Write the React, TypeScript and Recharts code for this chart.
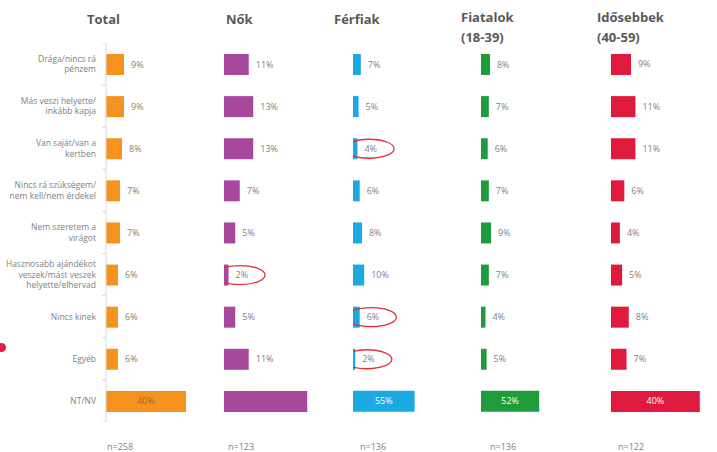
import React from "react";
import { BarChart, Bar, XAxis, YAxis, LabelList } from "recharts";

// category labels, "\n" marks the line breaks of the slide
const categories = [
  "Drága/nincs rá\npénzem",
  "Más veszi helyette/\ninkább kapja",
  "Van saját/van a\nkertben",
  "Nincs rá szükségem/\nnem kell/nem érdekel",
  "Nem szeretem a\nvirágot",
  "Hasznosabb ajándékot\nveszek/mást veszek\nhelyette/elhervad",
  "Nincs kinek",
  "Egyéb",
  "NT/NV",
];

const totalValues = [9, 9, 8, 7, 7, 6, 6, 6, 40];
const nokValues = [11, 13, 13, 7, 5, 2, 5, 11, 37];
const ferfiakValues = [7, 5, 4, 6, 8, 10, 6, 2, 55];
const fiatalokValues = [8, 7, 6, 7, 9, 7, 4, 5, 52];
const idosebbekValues = [9, 11, 11, 6, 4, 5, 8, 7, 40];

// rows circled in red on the slide
const nokCircled = [5];
const ferfiakCircled = [2, 6, 7];

const sampleSizes = ["n=258", "n=123", "n=136", "n=136", "n=122"];

const PLOT_TOP = 43;
const PLOT_H = 379;
const BAND = PLOT_H / categories.length;
const FONT = "'Open Sans', 'DejaVu Sans', sans-serif";
const GRAY = "#7f7f7f";

function CatTick(props: any) {
  const { x, y, payload, index } = props;
  const lines = String(payload.value).split("\n");
  const lh = 10.5;
  const start = -((lines.length - 1) * lh) / 2;
  const isLast = index === categories.length - 1;
  return (
    <g>
      <line x1={x + 6} x2={x + 10} y1={y - BAND / 2} y2={y - BAND / 2} stroke="#d9d9d9" />
      {isLast && <line x1={x + 6} x2={x + 10} y1={y + BAND / 2} y2={y + BAND / 2} stroke="#d9d9d9" />}
      <text x={x} y={y} textAnchor="end" fontSize={8.5} fill={GRAY} fontFamily={FONT}>
        {lines.map((l, i) => (
          <tspan key={i} x={x} dy={i === 0 ? start + 3 : lh}>
            {l}
          </tspan>
        ))}
      </text>
    </g>
  );
}

function makeLabel(circled: number[], showLast: boolean, lastColor: string) {
  return (props: any) => {
    const { x, y, width, height, value, index } = props;
    const cy = y + height / 2;
    const txt = `${value}%`;
    if (index === categories.length - 1) {
      if (!showLast) return null;
      return (
        <text x={x + width / 2} y={cy} dy={3} textAnchor="middle" fontSize={9} fill={lastColor} fontFamily={FONT}>
          {txt}
        </text>
      );
    }
    const tx = x + width + 7;
    const tw = txt.length * 5.6;
    return (
      <g>
        <text x={tx} y={cy} dy={3} fontSize={9} fill={GRAY} fontFamily={FONT}>
          {txt}
        </text>
        {circled.includes(index) && (
          <ellipse cx={tx + tw / 2 - 1} cy={cy} rx={25} ry={9.5} fill="none" stroke="#e0303a" strokeWidth={1.3} />
        )}
      </g>
    );
  };
}

interface PanelProps {
  values: number[];
  color: string;
  left: number;
  plotWidth: number;
  max: number;
  withAxis?: boolean;
  circled?: number[];
  showLast?: boolean;
  lastColor?: string;
  right?: number;
}

function Panel({ values, color, left, plotWidth, max, withAxis = false, circled = [], showLast = true, lastColor = "#ffffff", right = 40 }: PanelProps) {
  const data = categories.map((c, i) => ({ name: c, value: values[i] }));
  const axisW = withAxis ? left : 0;
  return (
    <div style={{ position: "absolute", left: withAxis ? 0 : left, top: PLOT_TOP }}>
      <BarChart
        layout="vertical"
        width={axisW + plotWidth + right}
        height={PLOT_H}
        data={data}
        margin={{ top: 0, right, bottom: 0, left: 0 }}
        barCategoryGap={0}
      >
        <XAxis type="number" domain={[0, max]} hide />
        <YAxis
          type="category"
          dataKey="name"
          hide={!withAxis}
          width={axisW}
          axisLine={{ stroke: "#d9d9d9" }}
          tickLine={false}
          tickSize={8}
          tickMargin={2}
          interval={0}
          tick={<CatTick />}
        />
        <Bar dataKey="value" fill={color} barSize={21} isAnimationActive={false}>
          <LabelList dataKey="value" content={makeLabel(circled, showLast, lastColor)} />
        </Bar>
      </BarChart>
    </div>
  );
}

const titleStyle: React.CSSProperties = {
  position: "absolute",
  fontFamily: FONT,
  fontWeight: 700,
  fontSize: 13,
  color: "#595959",
  lineHeight: "20px",
  whiteSpace: "nowrap",
};

const nStyle: React.CSSProperties = {
  position: "absolute",
  top: 440,
  fontFamily: FONT,
  fontSize: 9,
  color: GRAY,
  whiteSpace: "nowrap",
};

export default function App() {
  const nLeft = [107, 228, 360, 490, 618];
  return (
    <div
      style={{
        position: "absolute",
        left: 0,
        top: 0,
        width: 717,
        height: 452,
        overflow: "hidden",
        background: "#ffffff",
      }}
    >
      <div style={{ ...titleStyle, left: 87, top: 9 }}>Total</div>
      <div style={{ ...titleStyle, left: 226, top: 9 }}>Nők</div>
      <div style={{ ...titleStyle, left: 334, top: 9 }}>Férfiak</div>
      <div style={{ ...titleStyle, left: 461, top: 7 }}>
        Fiatalok
        <br />
        (18-39)
      </div>
      <div style={{ ...titleStyle, left: 597, top: 7 }}>
        Idősebbek
        <br />
        (40-59)
      </div>

      <Panel values={totalValues} color="#f6921e" left={106} plotWidth={100} max={50} withAxis lastColor="#9a6a33" />
      <Panel values={nokValues} color="#a8489c" left={224} plotWidth={90} max={40} circled={nokCircled} showLast={false} />
      <Panel values={ferfiakValues} color="#1ca9e1" left={353} plotWidth={67.2} max={60} circled={ferfiakCircled} />
      <Panel values={fiatalokValues} color="#1e9b3b" left={481} plotWidth={67.2} max={60} />
      <Panel values={idosebbekValues} color="#e0193f" left={611} plotWidth={88.8} max={40} right={17} />

      {sampleSizes.map((n, i) => (
        <div key={i} style={{ ...nStyle, left: nLeft[i] }}>
          {n}
        </div>
      ))}

      <div
        style={{
          position: "absolute",
          left: -3,
          top: 343,
          width: 9,
          height: 9,
          borderRadius: "50%",
          background: "#e31c44",
        }}
      />
    </div>
  );
}
